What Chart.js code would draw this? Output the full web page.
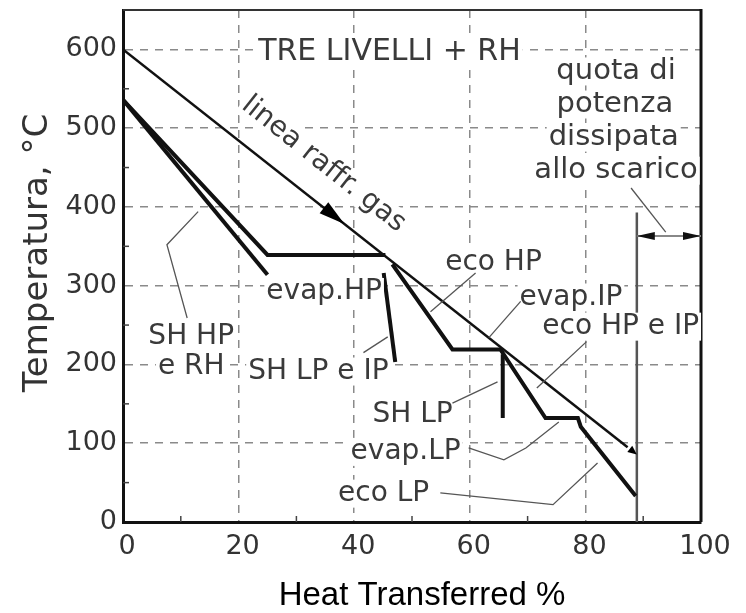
<!DOCTYPE html>
<html>
<head>
<meta charset="utf-8">
<title>Tre livelli + RH</title>
<script src="https://cdn.jsdelivr.net/npm/chart.js@4"></script>
<style>
  html, body { margin: 0; padding: 0; background: #fff; }
  canvas { display: block; }
</style>
</head>
<body>
<canvas id="chart" width="746" height="613"></canvas>
<script>
// axis ticks
const xTicks = [0, 20, 40, 60, 80, 100];
const yTicks = [0, 100, 200, 300, 400, 500, 600];
const xMinor = [10, 30, 50, 70, 90];
const yMinor = [50, 150, 250, 350, 450, 550];

// linea raffreddamento gas
const gasX = [0, 87.3];
const gasY = [600, 95];
// SH HP + evap HP
const hpX = [0, 25, 45.4];
const hpY = [536, 339, 339];
// RH
const rhX = [0, 25];
const rhY = [536, 314];
// SH LP e IP
const shLpIpX = [45.1, 47.1];
const shLpIpY = [316, 203];
// eco HP / evap IP / eco HP e IP / evap LP / eco LP
const ecoX = [46.6, 57, 65.3, 73.1, 78.7, 79.2, 88.7];
const ecoY = [327, 219, 219, 132, 132, 121, 33];
// SH LP
const shLpX = [65.7, 65.7];
const shLpY = [213, 132];
// limite potenza scaricata
const exhX = [88.9, 88.9];
const exhY = [0, 393];
const dimX = [88.9, 100];
const dimY = [363, 363];

// annotations (data units)
const notes = [
  { text: 'TRE LIVELLI + RH', x: 46.1, y: 596, size: 30 },
  { text: 'quota di', x: 85.3, y: 572, size: 29 },
  { text: 'potenza', x: 85.1, y: 530, size: 29 },
  { text: 'dissipata', x: 84.9, y: 488, size: 29 },
  { text: 'allo scarico', x: 85.3, y: 446, size: 29 },
  { text: 'linea raffr. gas', x: 34.7, y: 454, rot: 38.5 },
  { text: 'evap.HP', x: 34.8, y: 292 },
  { text: 'SH HP', x: 11.8, y: 235 },
  { text: 'e RH', x: 11.8, y: 197 },
  { text: 'SH LP e IP', x: 33.8, y: 191 },
  { text: 'eco HP', x: 64.1, y: 329 },
  { text: 'evap.IP', x: 77.5, y: 285 },
  { text: 'eco HP e IP', x: 86.1, y: 248 },
  { text: 'SH LP', x: 50.1, y: 136 },
  { text: 'evap.LP', x: 48.9, y: 89 },
  { text: 'eco LP', x: 45.1, y: 36 }
];
const leaders = [
  [[11.1, 259], [7.6, 352], [13.0, 394]],
  [[41.6, 215], [45.8, 235]],
  [[61.0, 316], [53.2, 267]],
  [[68.8, 280], [63.3, 234]],
  [[80.2, 229], [71.6, 170]],
  [[57.0, 151], [64.8, 178]],
  [[59.8, 94], [65.9, 79], [69.7, 94], [75.4, 127]],
  [[54.9, 37], [74.4, 22], [82.1, 75]],
  [[87.9, 424], [93.9, 368]]
];

const pts = (xs, ys) => xs.map((v, i) => ({ x: v, y: ys[i] }));
const thick = { borderColor: '#111', borderWidth: 4, showLine: true, pointRadius: 0 };

function arrow(ctx, tx, ty, fx, fy, len, hw) {
  const a = Math.atan2(ty - fy, tx - fx);
  ctx.beginPath();
  ctx.moveTo(tx, ty);
  ctx.lineTo(tx - len * Math.cos(a) + hw * Math.sin(a), ty - len * Math.sin(a) - hw * Math.cos(a));
  ctx.lineTo(tx - len * Math.cos(a) - hw * Math.sin(a), ty - len * Math.sin(a) + hw * Math.cos(a));
  ctx.closePath();
  ctx.fill();
}

const extras = {
  id: 'extras',
  afterDatasetsDraw(chart) {
    const { ctx, chartArea: ca, scales: { x, y } } = chart;
    const px = v => x.getPixelForValue(v);
    const py = v => y.getPixelForValue(v);
    ctx.save();

    // frame top / right
    ctx.strokeStyle = '#333';
    ctx.lineWidth = 2;
    ctx.beginPath();
    ctx.moveTo(ca.left, ca.top);
    ctx.lineTo(ca.right, ca.top);
    ctx.stroke();
    ctx.strokeStyle = '#111';
    ctx.lineWidth = 3;
    ctx.beginPath();
    ctx.moveTo(ca.right, ca.top - 1);
    ctx.lineTo(ca.right, ca.bottom);
    ctx.stroke();

    // minor ticks
    ctx.strokeStyle = '#444';
    ctx.lineWidth = 1.5;
    yMinor.forEach(v => {
      ctx.beginPath(); ctx.moveTo(ca.left, py(v)); ctx.lineTo(ca.left + 6, py(v)); ctx.stroke();
    });
    xMinor.forEach(v => {
      ctx.beginPath(); ctx.moveTo(px(v), ca.bottom); ctx.lineTo(px(v), ca.bottom - 6); ctx.stroke();
    });

    // arrow on gas line
    ctx.fillStyle = '#000';
    const gasAt = v => gasY[0] + (gasY[1] - gasY[0]) * (v - gasX[0]) / (gasX[1] - gasX[0]);
    arrow(ctx, px(38.3), py(gasAt(38.3)), px(33), py(gasAt(33)), 26, 7);
    arrow(ctx, px(88.9), py(gasAt(88.9)), px(86), py(gasAt(86)), 9, 4);

    // dimension line
    ctx.strokeStyle = '#888';
    ctx.lineWidth = 2;
    ctx.beginPath(); ctx.moveTo(px(dimX[0]), py(dimY[0])); ctx.lineTo(px(dimX[1]), py(dimY[1])); ctx.stroke();
    ctx.fillStyle = '#111';
    arrow(ctx, px(dimX[0]), py(dimY[0]), px(dimX[1]), py(dimY[1]), 18, 4);
    arrow(ctx, px(dimX[1]), py(dimY[1]), px(dimX[0]), py(dimY[0]), 18, 4);

    // label boxes + text
    ctx.textAlign = 'center';
    ctx.textBaseline = 'middle';
    const fontOf = n => (n.size || 28) + 'px "DejaVu Sans"';
    notes.forEach(n => {
      ctx.font = fontOf(n);
      const w = ctx.measureText(n.text).width;
      ctx.save();
      ctx.translate(px(n.x), py(n.y));
      if (n.rot) ctx.rotate(n.rot * Math.PI / 180);
      ctx.fillStyle = '#fff';
      ctx.fillRect(-w / 2 - 2, -14, w + 4, 28);
      ctx.restore();
    });
    ctx.strokeStyle = '#555';
    ctx.lineWidth = 1.3;
    leaders.forEach(l => {
      ctx.beginPath();
      l.forEach(([a, b], i) => i ? ctx.lineTo(px(a), py(b)) : ctx.moveTo(px(a), py(b)));
      ctx.stroke();
    });
    ctx.fillStyle = '#3a3a3a';
    notes.forEach(n => {
      ctx.font = fontOf(n);
      ctx.save();
      ctx.translate(px(n.x), py(n.y));
      if (n.rot) ctx.rotate(n.rot * Math.PI / 180);
      ctx.fillText(n.text, 0, 0);
      ctx.restore();
    });

    // axis titles
    ctx.save();
    ctx.translate(ca.left - 85, (ca.top + ca.bottom) / 2 - 13);
    ctx.rotate(-Math.PI / 2);
    ctx.font = '34px "DejaVu Sans"';
    ctx.fillStyle = '#333';
    ctx.fillText('Temperatura, °C', 0, 0);
    ctx.restore();
    ctx.font = '33px "Liberation Sans"';
    ctx.fillStyle = '#000';
    ctx.fillText('Heat Transferred %', (ca.left + ca.right) / 2 + 10, 596);

    ctx.restore();
  }
};

new Chart(document.getElementById('chart'), {
  type: 'scatter',
  data: {
    datasets: [
      { data: pts(gasX, gasY), borderColor: '#111', borderWidth: 2.5, showLine: true, pointRadius: 0 },
      { data: pts(hpX, hpY), ...thick },
      { data: pts(rhX, rhY), ...thick },
      { data: pts(shLpIpX, shLpIpY), ...thick },
      { data: pts(ecoX, ecoY), ...thick },
      { data: pts(shLpX, shLpY), ...thick },
      { data: pts(exhX, exhY), borderColor: '#555', borderWidth: 2.5, showLine: true, pointRadius: 0 }
    ]
  },
  options: {
    responsive: false,
    animation: false,
    devicePixelRatio: 1,
    layout: { padding: { left: 0, right: 45, top: 10, bottom: 0 } },
    plugins: { legend: { display: false }, tooltip: { enabled: false } },
    scales: {
      x: {
        type: 'linear', min: 0, max: 100,
        afterBuildTicks: s => { s.ticks = xTicks.map(v => ({ value: v })); },
        afterFit: s => { s.height = 91; s.paddingLeft = 0; s.paddingRight = 0; },
        ticks: { font: { family: 'DejaVu Sans', size: 27 }, color: '#333', padding: 9, labelOffset: 4, maxRotation: 0 },
        grid: { color: '#8a8a8a', lineWidth: 1.5, drawTicks: false },
        border: { color: '#111', width: 3, dash: [8, 7] }
      },
      y: {
        type: 'linear', min: 0, max: 650,
        afterBuildTicks: s => { s.ticks = yTicks.map(v => ({ value: v })); },
        afterFit: s => { s.width = 123; s.paddingTop = 0; s.paddingBottom = 0; },
        ticks: { font: { family: 'DejaVu Sans', size: 27 }, color: '#333', padding: 6 },
        grid: { color: '#8a8a8a', lineWidth: 1.5, drawTicks: false },
        border: { color: '#111', width: 3, dash: [8, 7] }
      }
    }
  },
  plugins: [extras]
});
</script>
</body>
</html>
